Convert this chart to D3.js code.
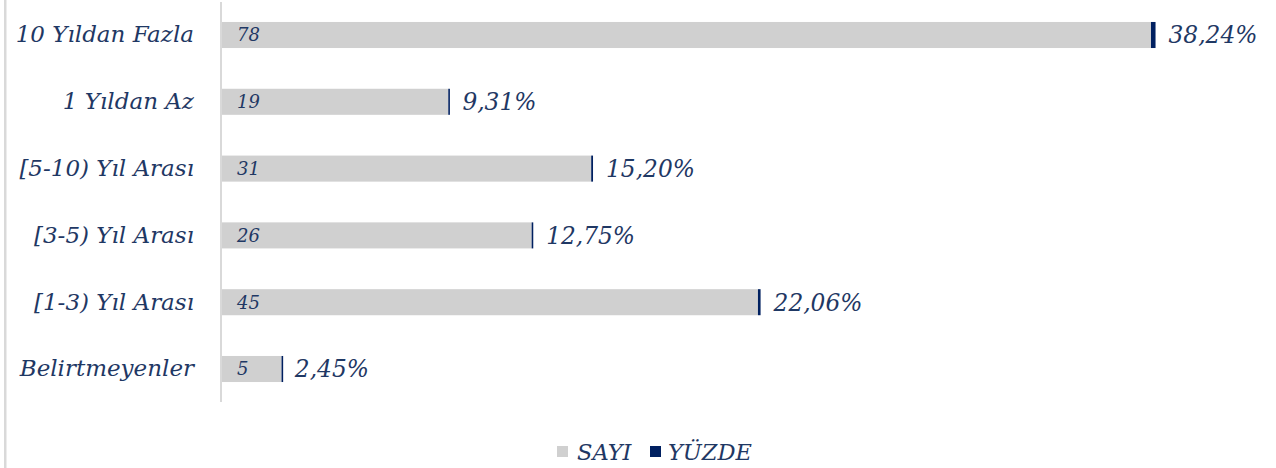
<!DOCTYPE html>
<html><head><meta charset="utf-8">
<script src="https://cdn.jsdelivr.net/npm/d3@7"></script>
<style>
html,body{margin:0;padding:0;background:#fff;}
svg{display:block;}
text{font-family:"DejaVu Serif",serif;font-style:italic;fill:#1f3864;}
</style></head><body>
<svg id="chart" width="1276" height="468"></svg>
<script>
const categories = ["10 Yıldan Fazla","1 Yıldan Az","[5-10) Yıl Arası","[3-5) Yıl Arası","[1-3) Yıl Arası","Belirtmeyenler"];
const sayi = [78,19,31,26,45,5];
const yuzde = [38.24,9.31,15.20,12.75,22.06,2.45];
const yuzdeLabels = ["38,24%","9,31%","15,20%","12,75%","22,06%","2,45%"];
const legendLabels = ["SAYI","YÜZDE"];

const gray = "#d0d0d0", navy = "#002060";
const svg = d3.select("#chart");

// page frame line on the left
svg.append("rect").attr("x",4).attr("y",0).attr("width",2.5).attr("height",468).attr("fill","#d9d9d9");

const x = d3.scaleLinear().domain([0,90]).range([222, 222+90*11.91]);
const y = d3.scaleBand().domain(categories).range([1.6, 402.4]).paddingInner(0.61).paddingOuter(0.305);

const rows = categories.map((c,i)=>({c, s:sayi[i], p:yuzde[i], pl:yuzdeLabels[i]}));

const g = svg.append("g");
g.selectAll("rect.sayi").data(rows).join("rect").attr("class","sayi")
 .attr("x",x(0)).attr("y",d=>y(d.c)).attr("width",d=>x(d.s)-x(0)).attr("height",y.bandwidth()).attr("fill",gray);
g.selectAll("rect.yuzde").data(rows).join("rect").attr("class","yuzde")
 .attr("x",d=>x(d.s)).attr("y",d=>y(d.c)).attr("width",d=>Math.max(1.6, x(d.s + d.p/100)-x(d.s))).attr("height",y.bandwidth()).attr("fill",navy);

// axis line
svg.append("line").attr("x1",221).attr("x2",221).attr("y1",2).attr("y2",402).attr("stroke","#d9d9d9").attr("stroke-width",2);

// category labels
const yAxis = d3.axisLeft(y).tickSize(0).tickPadding(0);
const ya = svg.append("g").attr("transform","translate(194,0)").call(yAxis);
ya.select(".domain").remove();
ya.selectAll("text").attr("font-size",23).style("font-family","DejaVu Serif").attr("fill","#1f3864");

// value labels inside bars
g.selectAll("text.sv").data(rows).join("text").attr("class","sv")
 .attr("x",x(0)+15).attr("y",d=>y(d.c)+y.bandwidth()/2).attr("dy","0.36em")
 .attr("font-size",18).text(d=>d.s);
// pct labels
g.selectAll("text.pv").data(rows).join("text").attr("class","pv")
 .attr("x",d=>x(d.s + d.p/100)+13).attr("y",d=>y(d.c)+y.bandwidth()/2).attr("dy","0.36em")
 .attr("font-size",23.3).text(d=>d.pl);

// legend
const lg = svg.append("g").attr("transform","translate(557,452)");
const items = [{t:legendLabels[0],c:gray,x:0,tx:20},{t:legendLabels[1],c:navy,x:93,tx:111}];
lg.selectAll("rect").data(items).join("rect").attr("x",d=>d.x).attr("y",-6).attr("width",11).attr("height",11).attr("fill",d=>d.c);
lg.selectAll("text").data(items).join("text").attr("x",d=>d.tx).attr("y",0).attr("dy","0.36em").attr("font-size",22.5).text(d=>d.t);
</script>
</body></html>
